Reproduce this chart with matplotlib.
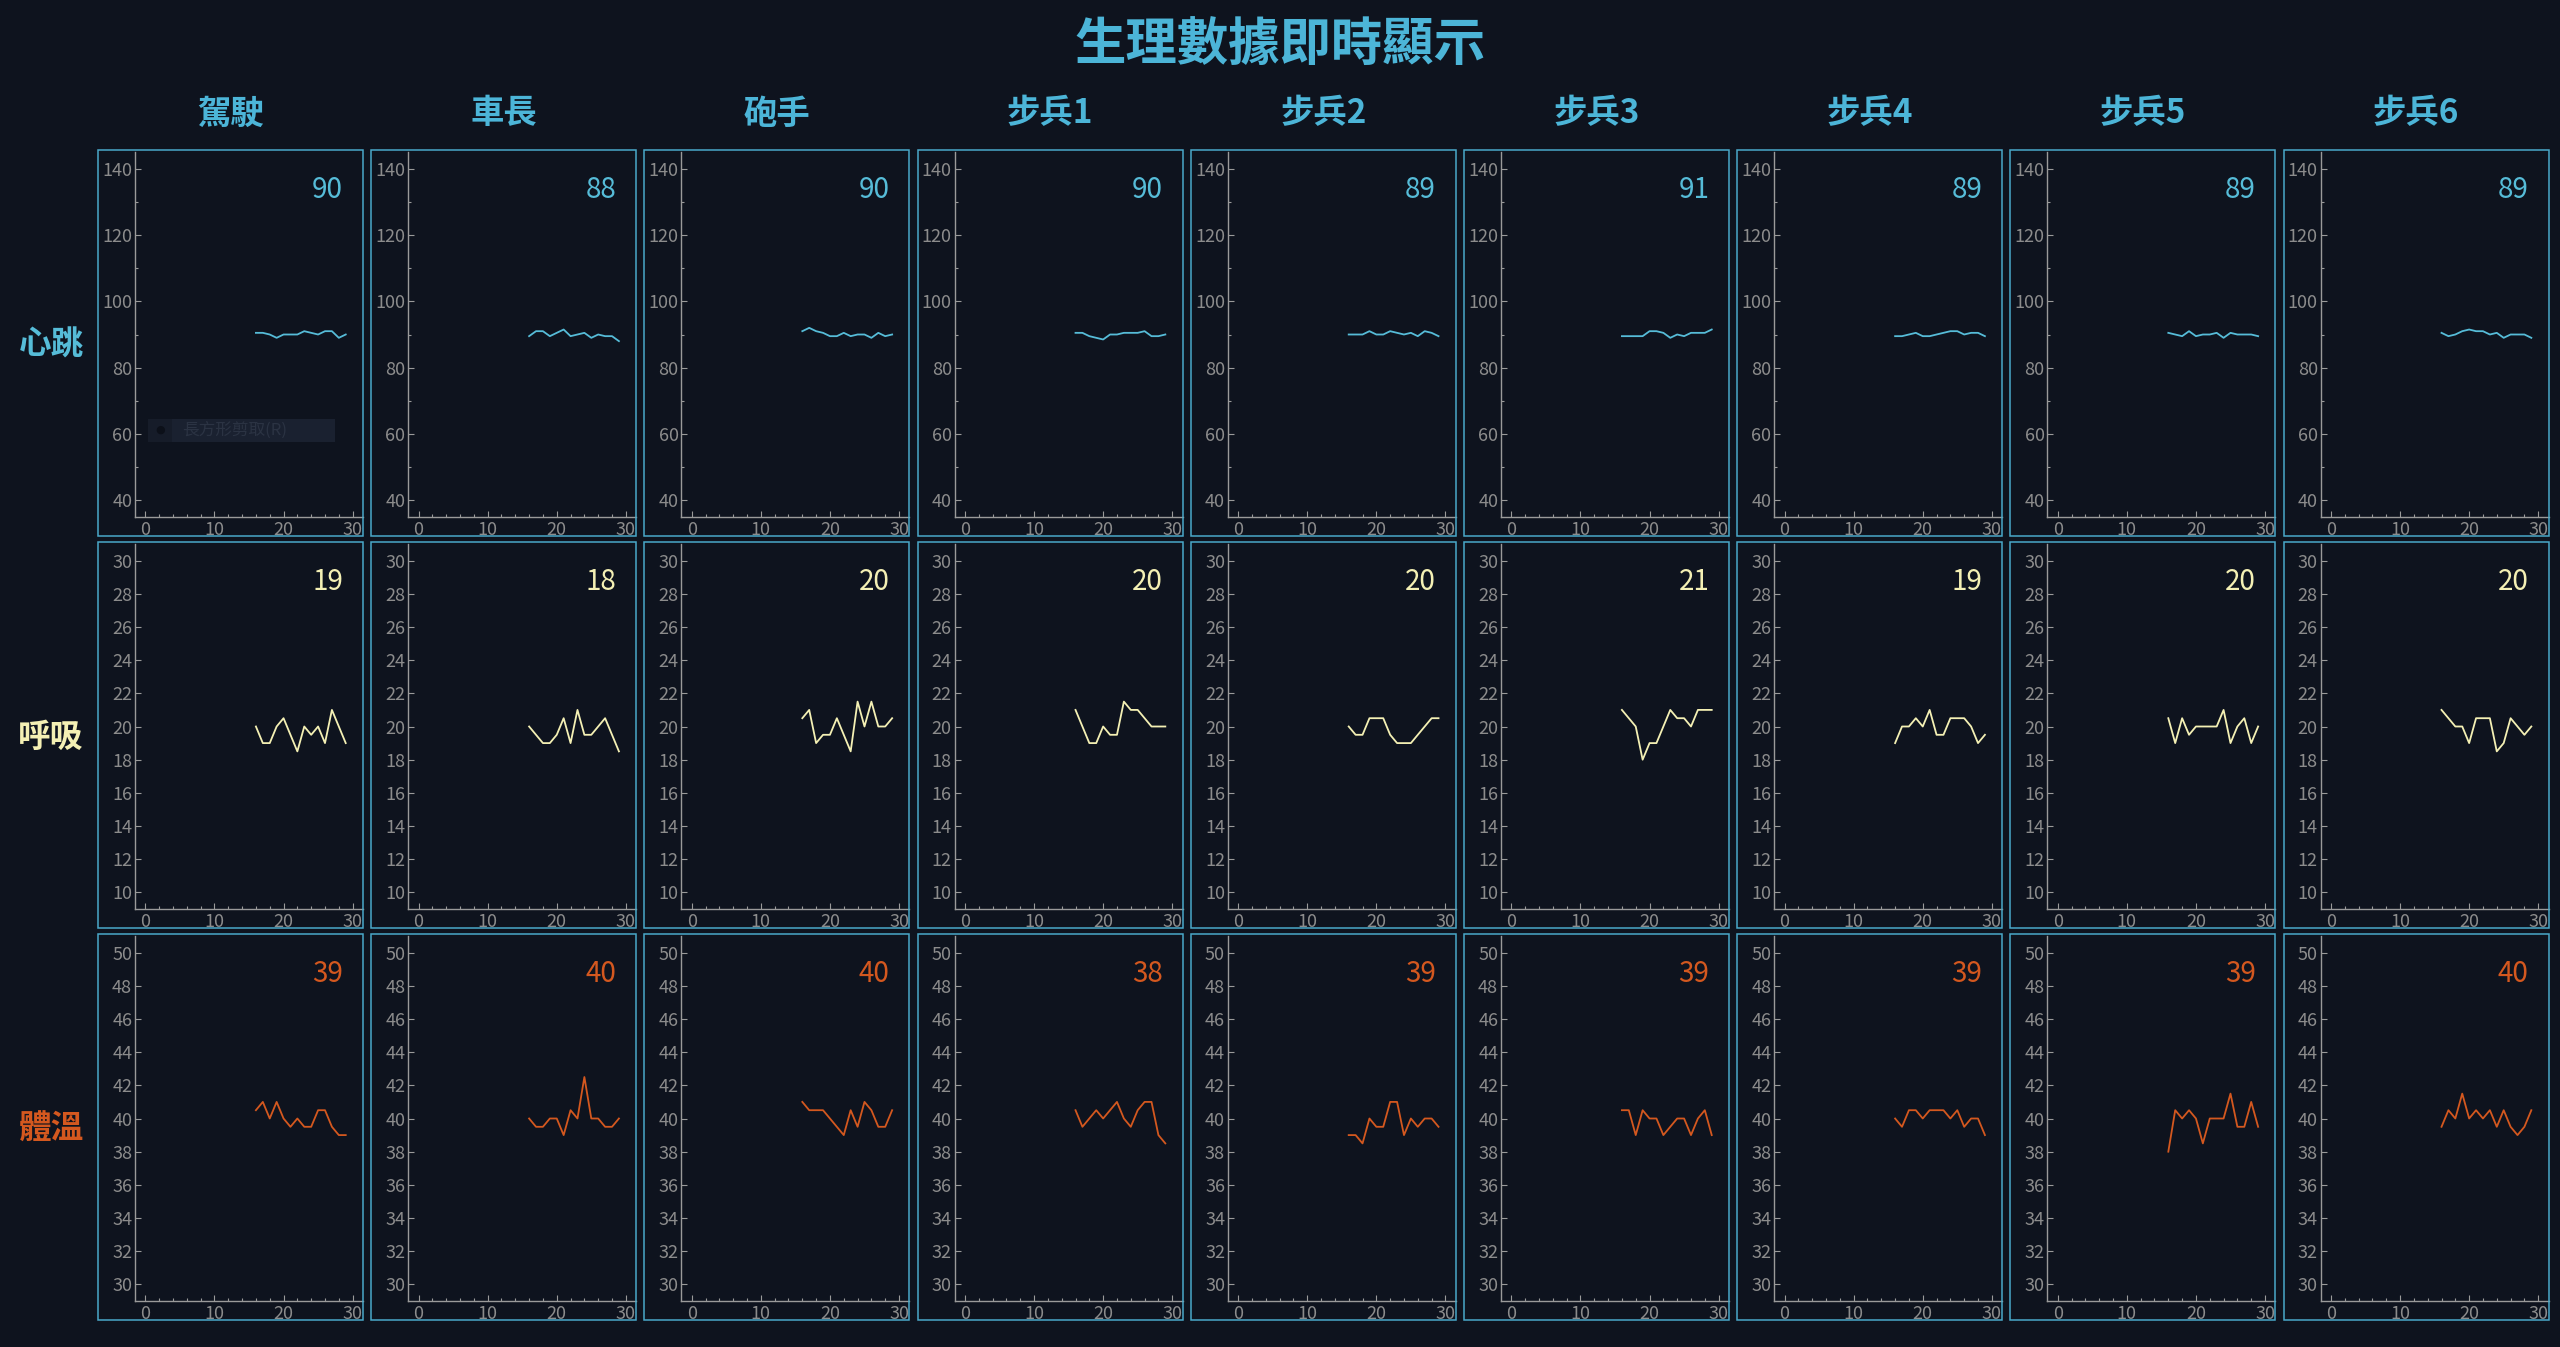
import numpy as np
import matplotlib
matplotlib.use("Agg")
import matplotlib.pyplot as plt
from matplotlib.patches import Rectangle
from matplotlib.ticker import MultipleLocator

plt.rcParams['font.family'] = ['Noto Sans CJK TC', 'DejaVu Sans']

# crew columns and metric rows
crew = ['駕駛', '車長', '砲手', '步兵1', '步兵2', '步兵3', '步兵4', '步兵5', '步兵6']
metrics = ['心跳', '呼吸', '體溫']

# sample index (only the last 14 samples of the 30-slot window are filled)
t = np.arange(16, 30)

heart = [
    [90.5, 90.5, 90, 89, 90, 90, 90, 91, 90.5, 90, 91, 91, 89, 90],
    [89.5, 91, 91, 89.5, 90.5, 91.5, 89.5, 90, 90.5, 89, 90, 89.5, 89.5, 88],
    [91, 92, 91, 90.5, 89.5, 89.5, 90.5, 89.5, 90, 90, 89, 90.5, 89.5, 90],
    [90.5, 90.5, 89.5, 89, 88.5, 90, 90, 90.5, 90.5, 90.5, 91, 89.5, 89.5, 90],
    [90, 90, 90, 91, 90, 90, 91, 90.5, 90, 90.5, 89.5, 91, 90.5, 89.5],
    [89.5, 89.5, 89.5, 89.5, 91, 91, 90.5, 89, 90, 89.5, 90.5, 90.5, 90.5, 91.5],
    [89.5, 89.5, 90, 90.5, 89.5, 89.5, 90, 90.5, 91, 91, 90, 90.5, 90.5, 89.5],
    [90.5, 90, 89.5, 91, 89.5, 90, 90, 90.5, 89, 90.5, 90, 90, 90, 89.5],
    [90.5, 89.5, 90, 91, 91.5, 91, 91, 90, 90.5, 89, 90, 90, 90, 89],
]
breath = [
    [20, 19, 19, 20, 20.5, 19.5, 18.5, 20, 19.5, 20, 19, 21, 20, 19],
    [20, 19.5, 19, 19, 19.5, 20.5, 19, 21, 19.5, 19.5, 20, 20.5, 19.5, 18.5],
    [20.5, 21, 19, 19.5, 19.5, 20.5, 19.5, 18.5, 21.5, 20, 21.5, 20, 20, 20.5],
    [21, 20, 19, 19, 20, 19.5, 19.5, 21.5, 21, 21, 20.5, 20, 20, 20],
    [20, 19.5, 19.5, 20.5, 20.5, 20.5, 19.5, 19, 19, 19, 19.5, 20, 20.5, 20.5],
    [21, 20.5, 20, 18, 19, 19, 20, 21, 20.5, 20.5, 20, 21, 21, 21],
    [19, 20, 20, 20.5, 20, 21, 19.5, 19.5, 20.5, 20.5, 20.5, 20, 19, 19.5],
    [20.5, 19, 20.5, 19.5, 20, 20, 20, 20, 21, 19, 20, 20.5, 19, 20],
    [21, 20.5, 20, 20, 19, 20.5, 20.5, 20.5, 18.5, 19, 20.5, 20, 19.5, 20],
]
temp = [
    [40.5, 41, 40, 41, 40, 39.5, 40, 39.5, 39.5, 40.5, 40.5, 39.5, 39, 39],
    [40, 39.5, 39.5, 40, 40, 39, 40.5, 40, 42.5, 40, 40, 39.5, 39.5, 40],
    [41, 40.5, 40.5, 40.5, 40, 39.5, 39, 40.5, 39.5, 41, 40.5, 39.5, 39.5, 40.5],
    [40.5, 39.5, 40, 40.5, 40, 40.5, 41, 40, 39.5, 40.5, 41, 41, 39, 38.5],
    [39, 39, 38.5, 40, 39.5, 39.5, 41, 41, 39, 40, 39.5, 40, 40, 39.5],
    [40.5, 40.5, 39, 40.5, 40, 40, 39, 39.5, 40, 40, 39, 40, 40.5, 39],
    [40, 39.5, 40.5, 40.5, 40, 40.5, 40.5, 40.5, 40, 40.5, 39.5, 40, 40, 39],
    [38, 40.5, 40, 40.5, 40, 38.5, 40, 40, 40, 41.5, 39.5, 39.5, 41, 39.5],
    [39.5, 40.5, 40, 41.5, 40, 40.5, 40, 40.5, 39.5, 40.5, 39.5, 39, 39.5, 40.5],
]

# current readings shown in each panel
heart_now = [90, 88, 90, 90, 89, 91, 89, 89, 89]
breath_now = [19, 18, 20, 20, 20, 21, 19, 20, 20]
temp_now = [39, 40, 40, 38, 39, 39, 39, 39, 40]

series = [heart, breath, temp]
current = [heart_now, breath_now, temp_now]
colors = ['#56bcd8', '#f4f0b4', '#d4581f']
ylims = [(35, 145), (9, 31), (29, 51)]
ysteps = [20, 2, 2]
yminor = [10, None, None]

bg = '#0e131e'
frame_col = '#4aa9c9'
tick_col = '#8c8c8c'
spine_col = '#9a9a9a'

W, H = 2560, 1347
fig = plt.figure(figsize=(W / 100, H / 100), dpi=100, facecolor=bg)

# panel grid in pixels
x0, pitch_x, pw = 98, 273.2, 265
row_tops = [150, 542, 934]
ph = 386

def fx(px):
    return px / W

def fy(py):
    return 1 - py / H

fig.text(0.5, fy(44), '生理數據即時顯示', ha='center', va='center',
         fontsize=37, fontweight='bold', color='#4cb5d8')

for j, name in enumerate(crew):
    cx = x0 + j * pitch_x + pw / 2
    fig.text(fx(cx), fy(114), name, ha='center', va='center',
             fontsize=24, fontweight='bold', color='#4cb5d8')

for i, m in enumerate(metrics):
    fig.text(fx(51), fy(row_tops[i] + ph / 2 + 2), m, ha='center', va='center',
             fontsize=23.5, fontweight='bold', color=colors[i])

for i in range(3):
    for j in range(9):
        left = x0 + j * pitch_x
        top = row_tops[i]
        ax_l = left + 37
        ax_b = top + ph - 19
        ax_t = top + 2
        ax = fig.add_axes([fx(ax_l), fy(ax_b), fx(left + pw - ax_l), (ax_b - ax_t) / H])
        ax.set_facecolor(bg)
        ax.plot(t, series[i][j], color=colors[i], lw=1.3)
        ax.set_xlim(-1.5, 31.5)
        ax.set_ylim(*ylims[i])
        ax.xaxis.set_major_locator(MultipleLocator(10))
        ax.xaxis.set_minor_locator(MultipleLocator(2))
        ax.yaxis.set_major_locator(MultipleLocator(ysteps[i]))
        if yminor[i]:
            ax.yaxis.set_minor_locator(MultipleLocator(yminor[i]))
        for s in ['top', 'right']:
            ax.spines[s].set_visible(False)
        for s in ['left', 'bottom']:
            ax.spines[s].set_color(spine_col)
            ax.spines[s].set_linewidth(1.0)
        ax.tick_params(which='both', direction='in', colors=spine_col,
                       labelcolor=tick_col, labelsize=13, width=0.8)
        ax.tick_params(which='major', length=4, pad=2)
        ax.tick_params(which='minor', length=2.5)
        ax.tick_params(axis='x', pad=3)

        # current value
        fig.text(fx(left + 0.925 * pw), fy(top + 0.104 * ph), str(current[i][j]),
                 ha='right', va='center', fontsize=20, color=colors[i])

        # panel frame
        fig.patches.append(Rectangle((fx(left), fy(top + ph)), pw / W, ph / H,
                                     transform=fig.transFigure, fill=False,
                                     edgecolor=frame_col, lw=1.1, zorder=5))

# leftover snipping-tool tooltip over the first panel
fig.patches.append(Rectangle((fx(148), fy(442)), 187 / W, 23 / H, transform=fig.transFigure,
                             facecolor='#1a2130', edgecolor='none', zorder=4))
fig.patches.append(Rectangle((fx(148), fy(442)), 24 / W, 23 / H, transform=fig.transFigure,
                             facecolor='#161c29', edgecolor='none', zorder=4))
fig.text(fx(160), fy(430), '●', ha='center', va='center', fontsize=8,
         color='#0c1019', family=['DejaVu Sans'], zorder=6)
fig.text(fx(182), fy(430), '長方形剪取(R)', ha='left', va='center', fontsize=12,
         color='#2b3343', zorder=6)

fig.savefig('out.png', dpi=100, facecolor=bg)
